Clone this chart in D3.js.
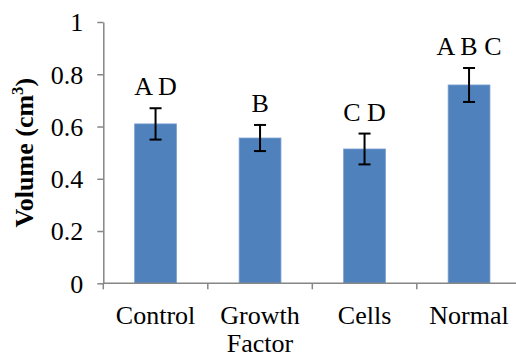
<!DOCTYPE html>
<html><head><meta charset="utf-8">
<script src="https://cdn.jsdelivr.net/npm/d3@7"></script>
<style>html,body{margin:0;padding:0;background:#fff;}svg{display:block;}
text{font-family:"Liberation Serif","Times New Roman",Times,"DejaVu Serif",serif;}</style>
</head><body>
<svg id="c" width="516" height="356"></svg>
<script>
const categories = [["Control"], ["Growth", "Factor"], ["Cells"], ["Normal"]];
const values = [0.61, 0.556, 0.514, 0.759];
const errors = [0.06, 0.05, 0.059, 0.065];
const letters = ["A D", "B", "C D", "A B C"];
const yTicks = [0, 0.2, 0.4, 0.6, 0.8, 1];
const yTickLabels = ["0", "0.2", "0.4", "0.6", "0.8", "1"];

(function () {
const svg = d3.select("#c");
const fs = 26;
const pLeft = 103.3, pRight = 521.3, pTop = 22, pBottom = 283.3;
const axisColor = "#868686";

const x = d3.scaleBand().domain(d3.range(categories.length)).range([pLeft, pRight]).paddingInner(0.6).paddingOuter(0.3);
const y = d3.scaleLinear().domain([0, 1]).range([pBottom, pTop]);

// y axis
const yAxis = d3.axisLeft(y).tickValues(yTicks).tickFormat((d, i) => yTickLabels[i]).tickSize(6).tickSizeOuter(0).tickPadding(14);
const gy = svg.append("g").attr("transform", `translate(${pLeft},0)`).call(yAxis);
gy.attr("font-family", null).attr("font-size", null);
gy.select(".domain").attr("stroke", axisColor).attr("stroke-width", 1.5);
gy.selectAll(".tick line").attr("stroke", axisColor).attr("stroke-width", 1.5);
gy.selectAll(".tick text").attr("font-size", fs).attr("fill", "#000").attr("dy", "0.34em");

// bars
svg.selectAll(".bar").data(values).enter().append("rect")
  .attr("x", (d, i) => x(i)).attr("width", x.bandwidth())
  .attr("y", d => y(d)).attr("height", d => y(0) - y(d))
  .attr("fill", "#4F81BD").attr("stroke", "#7a9fd0").attr("stroke-width", 0.8);

// x axis
const xEdges = d3.range(categories.length + 1).map(i => pLeft + i * (pRight - pLeft) / categories.length);
const gx = svg.append("g");
gx.append("line").attr("x1", pLeft).attr("x2", pRight).attr("y1", pBottom).attr("y2", pBottom)
  .attr("stroke", axisColor).attr("stroke-width", 1.5);
gx.selectAll(".xt").data(xEdges).enter().append("line")
  .attr("x1", d => d).attr("x2", d => d).attr("y1", pBottom).attr("y2", pBottom + 6)
  .attr("stroke", axisColor).attr("stroke-width", 1.5);

// error bars
const cx = i => x(i) + x.bandwidth() / 2;
const eg = svg.append("g").attr("stroke", "#000").attr("stroke-width", 2);
values.forEach((v, i) => {
  const t = y(v + errors[i]), b = y(v - errors[i]);
  eg.append("line").attr("x1", cx(i)).attr("x2", cx(i)).attr("y1", t).attr("y2", b);
  eg.append("line").attr("x1", cx(i) - 6).attr("x2", cx(i) + 6).attr("y1", t).attr("y2", t);
  eg.append("line").attr("x1", cx(i) - 6).attr("x2", cx(i) + 6).attr("y1", b).attr("y2", b);
});

// letters
svg.selectAll(".lt").data(letters).enter().append("text")
  .attr("x", (d, i) => cx(i)).attr("y", (d, i) => y(values[i] + errors[i]) - 13)
  .attr("text-anchor", "middle").attr("font-size", fs).attr("fill", "#000")
  .attr("xml:space", "preserve").text(d => d);

// category labels
categories.forEach((lines, i) => {
  const t = svg.append("text").attr("text-anchor", "middle")
    .attr("font-size", fs).attr("fill", "#000");
  lines.forEach((ln, j) => {
    t.append("tspan").attr("x", cx(i)).attr("y", 324 + j * 27.5).text(ln);
  });
});

// y title
const title = svg.append("text").attr("transform", `translate(33,${(pTop + pBottom) / 2}) rotate(-90)`)
  .attr("text-anchor", "middle").attr("font-size", fs).attr("font-weight", "bold").attr("fill", "#000");
title.append("tspan").text("Volume (cm");
title.append("tspan").attr("font-size", fs * 0.65).attr("dy", -10).text("3");
title.append("tspan").attr("dy", 10).text(")");
})();
</script>
</body></html>
